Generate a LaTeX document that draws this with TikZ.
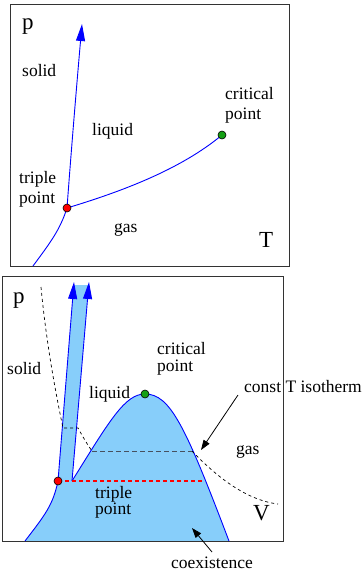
\documentclass[tikz,border=0pt]{standalone}
\usepackage{fontspec}
\setmainfont{Liberation Serif}
\usetikzlibrary{arrows.meta}
\definecolor{coexblue}{RGB}{135,206,250}
\definecolor{tiegray}{RGB}{70,80,95}
\definecolor{cpgreen}{RGB}{20,160,20}

\begin{document}
\begin{tikzpicture}[x=1pt,y=-1pt,
  lbl/.style={anchor=base west,inner sep=0pt,font=\fontsize{17.5}{21}\selectfont},
  axlbl/.style={anchor=base west,inner sep=0pt,font=\fontsize{23}{27}\selectfont},
  frame/.style={draw=black!80,line width=1pt},
  phase/.style={draw=blue,line width=0.9pt},
  uparrow/.style={phase,-{Triangle[length=17pt,width=9pt]}},
  pointer/.style={draw=black,line width=0.8pt,-{Triangle[length=10pt,width=7pt]}},
  tpdot/.style={circle,draw=black,fill=red,line width=0.6pt,minimum size=8pt,inner sep=0pt},
  cpdot/.style={circle,draw=black,fill=cpgreen,line width=0.6pt,minimum size=8pt,inner sep=0pt},
  isotherm/.style={draw=black,line width=0.7pt,dash pattern=on 3pt off 3pt}]
\path[use as bounding box] (0,0) rectangle (363,574);
\fill[white] (0,0) rectangle (363,574);

% p-T diagram
\draw[frame] (10,4) rectangle (289,266);
\coordinate (tpA) at (67,208);
\coordinate (cpA) at (222,135);
\coordinate (meltA) at (82,24);
\coordinate (sublA) at (33,266);
\draw[phase] (sublA) .. controls (50,243) and (60,230) .. (tpA);
\draw[uparrow] (tpA) .. controls (72,140) and (78,70) .. (meltA);
\draw[phase] (tpA) .. controls (120,192) and (180,170) .. (cpA);
\node[tpdot] (tpdotA) at (tpA) {};
\node[cpdot] (cpdotA) at (cpA) {};
\node[axlbl] (pA) at (22,29) {p};
\node[axlbl] (TA) at (259,247) {T};
\node[lbl] (solidA) at (22,76) {solid};
\node[lbl] (liquidA) at (92,135) {liquid};
\node[lbl] (gasA) at (114,232) {gas};
\node[lbl] (critA) at (225,99) {critical};
\node[lbl] (critptA) at (225,119) {point};
\node[lbl] (tripA) at (19,183) {triple};
\node[lbl] (tripptA) at (19,203) {point};

% p-V diagram
\coordinate (tpB) at (58,481);
\coordinate (footB) at (72,481);
\coordinate (cpB) at (145,394);
\coordinate (meltL) at (74,282);
\coordinate (meltR) at (89,282);
\coordinate (sublB) at (25,541);
\coordinate (domeB) at (229,541);
\coordinate (tieR) at (203,481);
\fill[coexblue] (sublB) .. controls (45,515) and (53,505) .. (tpB) -- (footB)
  .. controls (110,420) and (125,394) .. (cpB)
  .. controls (170,394) and (185,425) .. (domeB) -- cycle;
\fill[coexblue] (tpB) -- (73.8,285) -- (88.7,285) -- (footB) -- cycle;
\draw[frame] (2,276) rectangle (283,541);
\draw[phase] (sublB) .. controls (45,515) and (53,505) .. (tpB);
\draw[phase] (footB) .. controls (110,420) and (125,394) .. (cpB)
  .. controls (170,394) and (185,425) .. (domeB);
\draw[uparrow] (tpB) -- (meltL);
\draw[uparrow] (footB) -- (meltR);
% isotherm
\coordinate (isoL) at (92,451);
\coordinate (isoR) at (192,451);
\draw[isotherm] (41,287) .. controls (46,340) and (55,390) .. (63,428) -- (78,428)
  .. controls (83,437) and (87,444) .. (isoL);
\draw[isotherm] (isoR) .. controls (215,475) and (245,500) .. (278,504);
\draw[draw=tiegray,line width=1pt,dash pattern=on 5pt off 3pt] (isoL) -- (isoR);
\draw[red,line width=2.5pt,dash pattern=on 4pt off 3pt] (tpB) -- (tieR);
\node[tpdot] (tpdotB) at (tpB) {};
\node[cpdot] (cpdotB) at (cpB) {};
\node[axlbl] (pB) at (13,303) {p};
\node[axlbl] (VB) at (253,520) {V};
\node[lbl] (solidB) at (7,374) {solid};
\node[lbl] (liquidB) at (89,398) {liquid};
\node[lbl] (critB) at (157,354) {critical};
\node[lbl] (critptB) at (157,371) {point};
\node[lbl] (isolbl) at (244,392) {const T isotherm};
\node[lbl] (gasB) at (236,454) {gas};
\node[lbl] (tripB) at (95,498) {triple};
\node[lbl] (tripptB) at (95,514) {point};
\node[lbl] (coexlbl) at (171,568) {coexistence};
\coordinate (isotail) at (238,395);
\coordinate (isotip) at (201,450);
\coordinate (coextail) at (212,552);
\coordinate (coextip) at (192,528);
\draw[pointer] (isotail) -- (isotip);
\draw[pointer] (coextail) -- (coextip);
\end{tikzpicture}
\end{document}
